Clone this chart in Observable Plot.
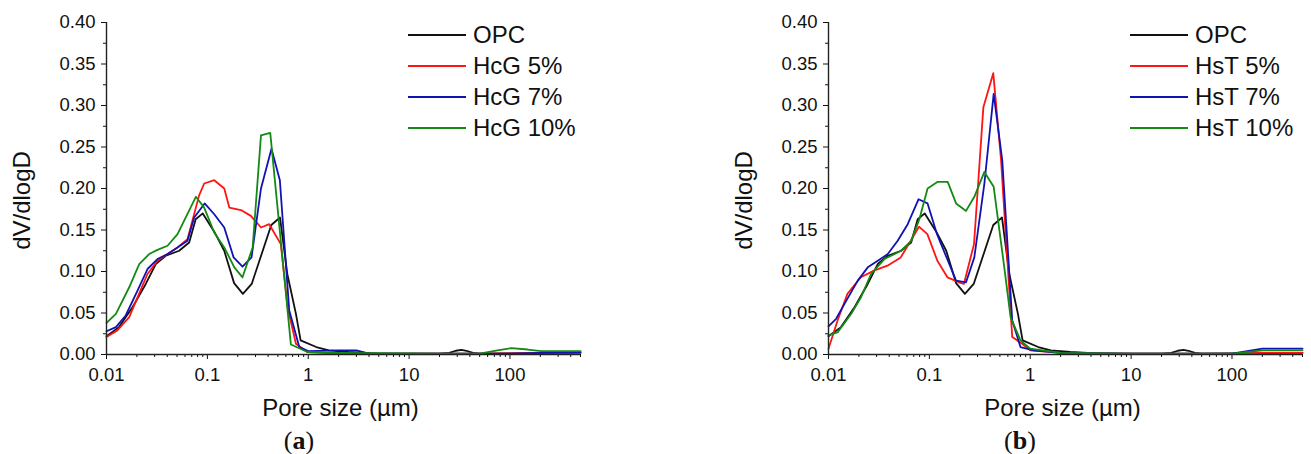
<!DOCTYPE html>
<html>
<head>
<meta charset="utf-8">
<script src="https://cdn.jsdelivr.net/npm/d3@7"></script>
<script src="https://cdn.jsdelivr.net/npm/@observablehq/plot@0.6"></script>
<style>
html, body { margin: 0; padding: 0; background: #fff; }
#fig { position: relative; width: 1311px; height: 454px; overflow: hidden; font-family: "Liberation Sans", Arial, sans-serif; }
.panel { position: absolute; top: 0; }
.legend { position: absolute; top: 0; font-size: 24px; color: #111; }
.row { position: absolute; left: 0; height: 0; }
.swatch { position: absolute; left: 0; top: -1px; width: 58px; height: 0; border-top: 2.2px solid; }
.lab { position: absolute; left: 65px; top: 0; white-space: nowrap; line-height: 1; transform: translateY(-50%); }
.tag { position: absolute; top: 428px; font-family: "Liberation Serif", "DejaVu Serif", serif; font-size: 26px; line-height: 1; color: #111; transform: translateX(-50%); white-space: nowrap; }
</style>
</head>
<body>
<div id="fig"></div>
<script>
// ---------- data ----------
const xLabel = "Pore size (µm)";
const yLabel = "dV/dlogD";

const yTicks = [0, 0.05, 0.10, 0.15, 0.20, 0.25, 0.30, 0.35, 0.40];
const yMinorTicks = [0.025, 0.075, 0.125, 0.175, 0.225, 0.275, 0.325, 0.375];
const xTicks = [0.01, 0.1, 1, 10, 100];
const xMinorTicks = [0.02,0.03,0.04,0.05,0.06,0.07,0.08,0.09,
                     0.2,0.3,0.4,0.5,0.6,0.7,0.8,0.9,
                     2,3,4,5,6,7,8,9,
                     20,30,40,50,60,70,80,90,
                     200,300,400,500];

// OPC (same in both panels)
const poreOPC = [0.01,0.0133,0.0181,0.0245,0.0308,0.0387,0.0525,0.066,0.0766,0.09,0.117,0.147,0.184,0.225,0.275,0.43,0.525,0.62,0.755,0.84,1.2,1.6,2.5,5,20,25,29,33,37,43,50,500];
const valOPC  = [0.022,0.033,0.057,0.085,0.109,0.119,0.125,0.135,0.163,0.170,0.148,0.125,0.086,0.073,0.085,0.156,0.165,0.097,0.049,0.017,0.009,0.005,0.003,0.001,0.001,0.002,0.0045,0.0055,0.0045,0.002,0.001,0.002];

// Panel (a): HcG
const poreHcG5 = [0.01,0.0128,0.0168,0.021,0.0255,0.032,0.0403,0.0506,0.0635,0.083,0.093,0.117,0.147,0.165,0.215,0.27,0.34,0.41,0.535,0.624,0.755,0.98,2,10,50,500];
const valHcG5  = [0.021,0.029,0.045,0.073,0.097,0.113,0.121,0.129,0.139,0.192,0.206,0.210,0.200,0.177,0.174,0.167,0.153,0.157,0.133,0.057,0.013,0.003,0.001,0.001,0.001,0.002];

const poreHcG7 = [0.01,0.0124,0.0155,0.0203,0.0255,0.032,0.0403,0.0506,0.0635,0.074,0.094,0.117,0.147,0.182,0.223,0.274,0.34,0.432,0.523,0.648,0.815,1.0,2.0,3.0,4,10,100,500];
const valHcG7  = [0.028,0.033,0.047,0.077,0.103,0.115,0.121,0.129,0.137,0.165,0.182,0.169,0.153,0.117,0.106,0.117,0.200,0.248,0.210,0.053,0.009,0.004,0.005,0.005,0.001,0.001,0.001,0.003];

const poreHcG10 = [0.01,0.0124,0.0168,0.0211,0.0265,0.032,0.0403,0.0506,0.0769,0.093,0.117,0.147,0.185,0.223,0.281,0.34,0.42,0.673,0.98,2,20,50,75,103,150,204,500];
const valHcG10  = [0.038,0.049,0.081,0.109,0.121,0.126,0.131,0.145,0.190,0.177,0.147,0.129,0.105,0.093,0.129,0.264,0.267,0.012,0.003,0.002,0.001,0.001,0.005,0.0076,0.006,0.004,0.004];

// Panel (b): HsT
const poreHsT5 = [0.01,0.0123,0.0154,0.0209,0.0282,0.0384,0.052,0.0653,0.0789,0.0955,0.12,0.151,0.196,0.22,0.277,0.343,0.43,0.513,0.663,0.833,1.0,2,10,100,200,500];
const valHsT5  = [0.007,0.041,0.073,0.093,0.101,0.107,0.117,0.137,0.154,0.145,0.113,0.093,0.087,0.085,0.133,0.298,0.339,0.235,0.021,0.013,0.005,0.002,0.001,0.001,0.002,0.002];

const poreHsT7 = [0.01,0.0119,0.0144,0.0195,0.0245,0.0308,0.0387,0.0485,0.061,0.078,0.096,0.119,0.184,0.231,0.279,0.351,0.434,0.528,0.663,0.8,1.08,2,10,100,200,500];
const valHsT7  = [0.034,0.043,0.061,0.089,0.105,0.113,0.121,0.137,0.157,0.187,0.182,0.145,0.089,0.087,0.117,0.206,0.314,0.234,0.041,0.009,0.005,0.002,0.001,0.001,0.007,0.007];

const poreHsT10 = [0.01,0.0124,0.0168,0.021,0.0264,0.0358,0.0525,0.066,0.0796,0.096,0.121,0.152,0.184,0.231,0.279,0.351,0.434,0.553,0.638,0.80,1.0,2,10,100,200,500];
const valHsT10  = [0.023,0.027,0.049,0.069,0.097,0.115,0.125,0.137,0.163,0.200,0.208,0.208,0.182,0.173,0.19,0.220,0.202,0.105,0.045,0.017,0.007,0.002,0.001,0.001,0.005,0.005];

const namesA = ["OPC", "HcG 5%", "HcG 7%", "HcG 10%"];
const namesB = ["OPC", "HsT 5%", "HsT 7%", "HsT 10%"];
const seriesColors = ["#111111", "#ff1414", "#1212b4", "#138a13"];

// ---------- helpers ----------
function rows(pores, vals) { return pores.map((p, i) => ({pore: p, v: vals[i]})); }

function panel({series, names, left, width, marginLeft, marginRight, tag, tagX}) {
  const fig = document.getElementById("fig");
  const chart = Plot.plot({
    width, height: 454,
    marginTop: 22, marginBottom: 100, marginLeft, marginRight,
    x: {type: "log", domain: [0.01, 500]},
    y: {domain: [0, 0.4]},
    style: {fontFamily: "'Liberation Sans', Arial, sans-serif", fontSize: "18.5px", color: "#111", background: "transparent", overflow: "visible"},
    marks: [
      Plot.axisY({ticks: yMinorTicks, tickSize: 3, tickFormat: () => "", label: null}),
      Plot.axisY({ticks: yTicks, tickSize: 5, tickPadding: 6, tickFormat: d3.format(".2f"), label: null}),
      Plot.axisX({ticks: xMinorTicks, tickSize: 3, tickFormat: () => "", label: null}),
      Plot.axisX({ticks: xTicks, tickSize: 5, tickPadding: 8, tickFormat: d3.format("~g"), label: null}),
      ...series.map((s, i) => Plot.line(s, {x: "pore", y: "v", stroke: seriesColors[i], strokeWidth: 1.8, curve: "linear"})),
      Plot.ruleX([0.01], {stroke: "#222", strokeWidth: 1.4}),
      Plot.ruleY([0], {stroke: "#222", strokeWidth: 1.4}),
      Plot.text([xLabel], {frameAnchor: "bottom", textAnchor: "middle", lineAnchor: "bottom", dy: 61, dx: -3, fontSize: 24}),
      Plot.text([yLabel], {frameAnchor: "left", textAnchor: "middle", lineAnchor: "bottom", rotate: -90, dx: -77, dy: 12, fontSize: 24})
    ]
  });
  chart.classList.add("panel");
  chart.style.left = left + "px";
  fig.appendChild(chart);

  // legend
  const lg = document.createElement("div");
  lg.className = "legend";
  lg.style.left = (left + marginLeft + 302) + "px";
  names.forEach((n, i) => {
    const r = document.createElement("div");
    r.className = "row";
    r.style.top = (35 + 31 * i) + "px";
    const sw = document.createElement("div");
    sw.className = "swatch";
    sw.style.borderTopColor = seriesColors[i];
    const lb = document.createElement("div");
    lb.className = "lab";
    lb.textContent = n;
    r.appendChild(sw); r.appendChild(lb);
    lg.appendChild(r);
  });
  fig.appendChild(lg);

  const t = document.createElement("div");
  t.className = "tag";
  t.style.left = tagX + "px";
  t.innerHTML = "(<b>" + tag + "</b>)";
  fig.appendChild(t);
}

panel({
  series: [rows(poreOPC, valOPC), rows(poreHcG5, valHcG5), rows(poreHcG7, valHcG7), rows(poreHcG10, valHcG10)],
  names: namesA, left: 0, width: 655, marginLeft: 106, marginRight: 75, tag: "a", tagX: 299
});
panel({
  series: [rows(poreOPC, valOPC), rows(poreHsT5, valHsT5), rows(poreHsT7, valHsT7), rows(poreHsT10, valHsT10)],
  names: namesB, left: 655, width: 656, marginLeft: 173, marginRight: 9, tag: "b", tagX: 1020
});
</script>
</body>
</html>
